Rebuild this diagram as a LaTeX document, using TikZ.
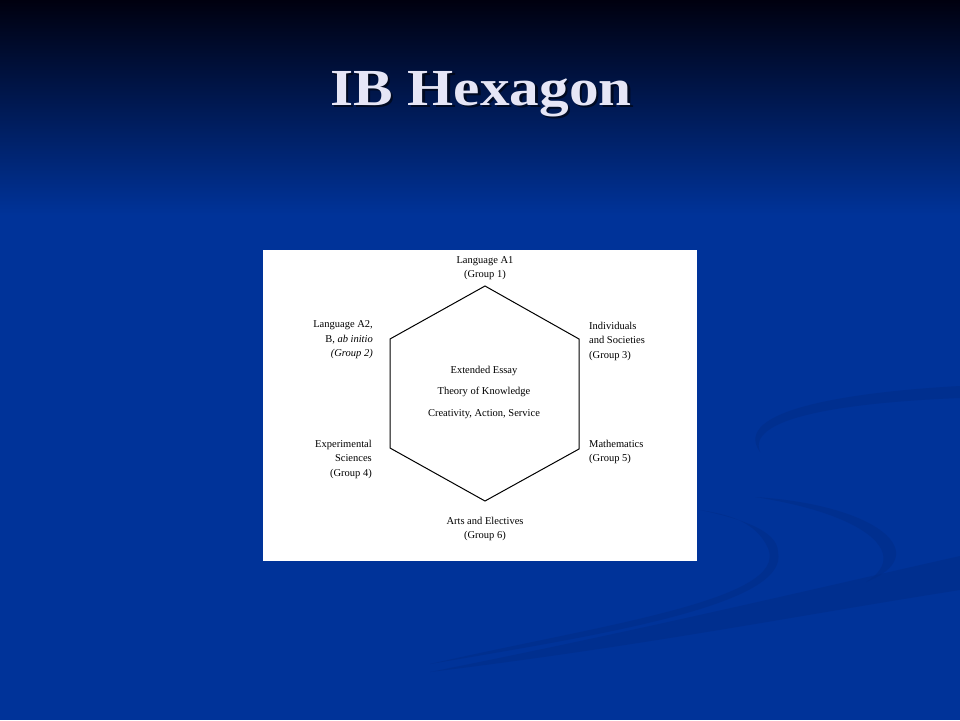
\documentclass[tikz,border=0pt]{standalone}
\usepackage{fontspec}
\setmainfont{Liberation Serif}
\definecolor{slideblue}{HTML}{003399}
\definecolor{slidetop}{HTML}{00000F}
\definecolor{swoosh}{HTML}{002C86}
\definecolor{titlewhite}{HTML}{E6E6F6}
\begin{document}
\begin{tikzpicture}[x=1pt,y=-1pt]
    \tikzstyle{heading}=[font=\fontsize{52}{52}\selectfont\bfseries,inner sep=0,anchor=base]
    \tikzstyle{subject}=[font=\fontsize{10.5}{14.5}\selectfont,inner sep=0]
    \tikzstyle{core}=[font=\fontsize{10.5}{14.5}\selectfont,inner sep=0]
    \tikzstyle{band}=[fill=swoosh,opacity=0.5]
    \useasboundingbox (0,0) rectangle (960,720);

    % slide background
    \fill[slideblue] (0,0) rectangle (960,720);
    \shade[top color=slidetop,bottom color=slideblue] (0,0) rectangle (960,215);
    \path[band] (760,452) .. controls (730,410) and (850,392) .. (960,386) -- (960,398) .. controls (860,402) and (745,415) .. (760,452) -- cycle;
    \path[band] (430,664) .. controls (600,625) and (790,600) .. (768,548) .. controls (755,520) and (725,514) .. (700,510)
        .. controls (738,518) and (778,530) .. (778,552) .. controls (790,605) and (600,635) .. (430,664) -- cycle;
    \path[band] (755,497) .. controls (880,505) and (935,555) .. (866,582) .. controls (910,555) and (870,515) .. (755,497) -- cycle;
    \path[band] (430,672) .. controls (650,628) and (800,592) .. (960,556) -- (960,590) .. controls (800,615) and (650,645) .. (430,672) -- cycle;

    % title with its shadow
    \node[heading,black,opacity=0.55] at (483.5,107.5) {\scalebox{1.14}[1]{IB Hexagon}};
    \node[heading,titlewhite] (title) at (481,105) {\scalebox{1.14}[1]{IB Hexagon}};

    % white panel
    \fill[white] (263,250) rectangle (697,561);

    \coordinate (g1) at (485,286);
    \coordinate (g3) at (579,339);
    \coordinate (g5) at (579,449);
    \coordinate (g6) at (485,501);
    \coordinate (g4) at (390,448);
    \coordinate (g2) at (390,339);
    \draw[line width=1] (g1) -- (g3) -- (g5) -- (g6) -- (g4) -- (g2) -- cycle;

    \node[subject,align=center] (lang1) at (485,268) {Language A1\\(Group 1)};
    \node[subject,align=right,anchor=east] (lang2) at (373,340) {Language A2,\\B, \textit{ab initio}\\\textit{(Group 2)}};
    \node[subject,align=left,anchor=west] (indiv) at (589,341) {Individuals\\and Societies\\(Group 3)};
    \node[subject,align=right,anchor=east] (exper) at (372,459) {Experimental\\Sciences\\(Group 4)};
    \node[subject,align=left,anchor=west] (maths) at (589,452) {Mathematics\\(Group 5)};
    \node[subject,align=center] (arts) at (485,529) {Arts and Electives\\(Group 6)};

    \node[core] (ee) at (484,371) {Extended Essay};
    \node[core] (tok) at (484,392) {Theory of Knowledge};
    \node[core] (cas) at (484,414) {Creativity, Action, Service};
\end{tikzpicture}
\end{document}
